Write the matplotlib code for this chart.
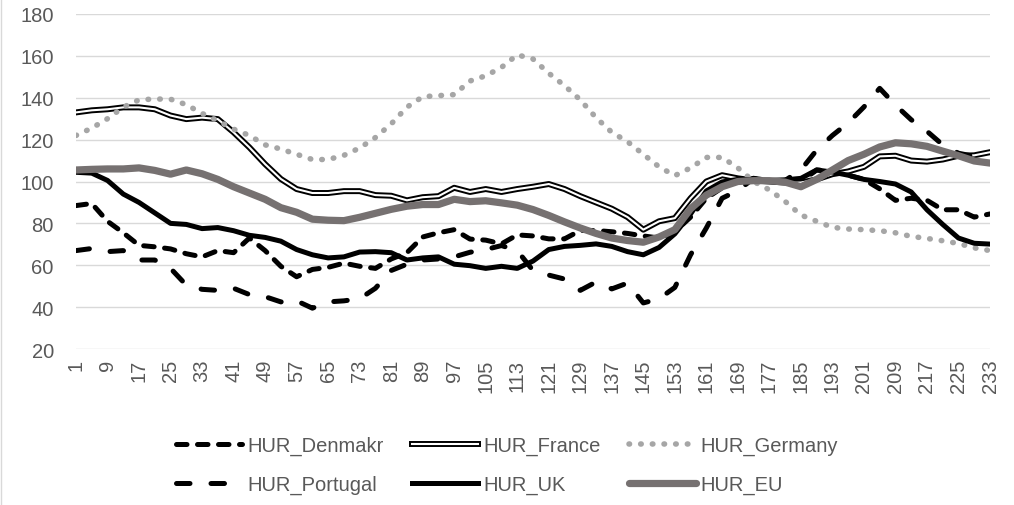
import numpy as np
import matplotlib.pyplot as plt
from matplotlib.legend_handler import HandlerTuple
from matplotlib.lines import Line2D

plt.rcParams['font.family'] = ['Liberation Sans', 'DejaVu Sans']

# index values read every 4th period (1, 5, 9, ..., 233)
periods = np.arange(1, 234, 4)

denmark = [88.5, 89.5, 81, 75.5, 69.5, 68.8, 67.8, 65.5, 64, 67,
           66, 73, 67, 59.5, 54.5, 58, 59, 61, 59.5, 58.5,
           63, 66, 73.5, 75.5, 77, 72.5, 72, 70.2, 74.5, 74,
           72.6, 72.6, 76.6, 76.6, 76, 75.2, 74, 73, 76, 83,
           92, 97, 100, 101.5, 100.5, 100.5, 100, 105.5, 105, 103,
           101, 96.5, 91, 92, 91, 86.5, 86.5, 83, 84.5]
france = [133, 134, 134.5, 135.4, 135.4, 134.5, 131.5, 129.8, 130.5, 129.8,
          123.5, 116.3, 108.3, 101.2, 96.4, 94.5, 94.5, 95.4, 95.4, 93.5,
          93.2, 91, 92.5, 93, 97, 95, 96.4, 95, 96.4, 97.5,
          98.8, 96.4, 93, 90, 87, 83, 77, 81, 82.5, 92,
          100, 103, 101.5, 100.5, 100, 99.5, 99.5, 101, 103.5, 104.8,
          107, 112, 112.3, 110, 109.5, 110.5, 112.3, 112.5, 114]
germany = [122, 125.5, 130, 135.5, 139, 139.4, 139.3, 136.7, 132.5, 129,
           125, 122, 117.5, 115.5, 113, 110.5, 110.5, 112.5, 116, 121,
           127.5, 135.5, 140.5, 141, 141.5, 148, 150.5, 154.5, 160.5, 158.5,
           151.7, 145.8, 139, 130.5, 123.5, 119, 113, 107, 102.8, 106.5,
           111.5, 111.5, 106.5, 100, 96, 90.5, 84, 81, 78.1, 77.3,
           77, 76.5, 75.5, 73.8, 72.8, 71.7, 70.4, 68.3, 67]
portugal = [67, 68, 66.5, 67, 62.5, 62.5, 58.5, 50.5, 48.5, 48,
            49, 46, 45, 42.5, 43, 39.5, 42.5, 43, 44, 49,
            57.5, 60.5, 62.5, 63, 64, 66.2, 67.5, 69.4, 67, 57.5,
            55.3, 53.4, 48, 52, 48.7, 51.5, 42, 44, 49.4, 65,
            77.8, 92, 95.7, 101.5, 99.5, 100.5, 105.5, 115, 122, 128,
            135.6, 144.5, 136.5, 129.5, 124, 117.5, 113.5, 112, 112]
uk = [104.4, 104, 100.5, 94, 90, 85, 80, 79.5, 77.5, 78,
      76.5, 74.3, 73.3, 71.5, 67.5, 65, 63.5, 64, 66.3, 66.5,
      66, 62.5, 63.5, 64, 60.5, 59.8, 58.5, 59.5, 58.5, 62,
      67.5, 69, 69.5, 70.2, 69, 66.5, 65, 68.5, 75, 84.5,
      95.5, 99.8, 101, 100.8, 100.5, 100.8, 101.5, 105.5, 104.5, 103,
      101, 100, 98.8, 95, 86.5, 79.5, 73, 70.5, 70.1]
eu = [105.5, 105.8, 106, 106, 106.5, 105.3, 103.5, 105.5, 103.7, 101,
      97.5, 94.5, 91.5, 87.5, 85.3, 82, 81.5, 81.3, 82.9, 84.8,
      86.7, 88.2, 89, 89, 91.5, 90.4, 90.8, 89.8, 88.7, 86.6,
      83.8, 80.7, 77.8, 75.2, 73, 71.8, 71, 73.5, 77, 87,
      93.5, 97.5, 100, 100.4, 100.4, 99.7, 97.5, 101, 105.5, 110,
      113, 116.5, 118.5, 118, 116.8, 114.5, 112.3, 109.8, 108.8]

xtick_labels = list(range(1, 234, 8))
text_grey = '#595959'

fig = plt.figure(figsize=(10.14, 5.06), dpi=100)
ax = fig.add_axes([76 / 1014, 1 - 350 / 506, 914 / 1014, 335 / 506])

dk, = ax.plot(periods, denmark, color='black', lw=3.6, ls=(0, (2.1, 2.1)),
              dash_capstyle='round', solid_joinstyle='round')
fr1, = ax.plot(periods, france, color='black', lw=4.3, solid_joinstyle='round')
fr2, = ax.plot(periods, france, color='white', lw=1.5, solid_joinstyle='round')
de, = ax.plot(periods, germany, color='#A6A6A6', lw=4.0, ls=(0, (0.1, 2.0)),
              dash_capstyle='round')
pt, = ax.plot(periods, portugal, color='black', lw=3.6, ls=(0, (2.7, 4.2)),
              dash_capstyle='round')
gb, = ax.plot(periods, uk, color='black', lw=3.6, solid_joinstyle='round')
eu_line, = ax.plot(periods, eu, color='#767171', lw=5.2, solid_joinstyle='round',
                   solid_capstyle='round')

ax.set_xlim(1, 233)
ax.set_ylim(20, 180)
ax.set_yticks(range(20, 181, 20))
ax.set_xticks(xtick_labels)
ax.set_xticklabels([str(v) for v in xtick_labels], rotation=90)
ax.tick_params(axis='y', length=0, pad=16, labelsize=14.5, labelcolor=text_grey)
ax.tick_params(axis='x', length=0, pad=7, labelsize=14.5, labelcolor=text_grey)
ax.yaxis.grid(True, color='#D9D9D9', lw=1.0)
ax.set_axisbelow(True)
for s in ax.spines.values():
    s.set_visible(False)

# legend, filled column by column so rows read like the original
handles = [dk, pt, (fr1, fr2), gb, de, eu_line]
labels = ['HUR_Denmakr', 'HUR_Portugal', 'HUR_France', 'HUR_UK',
          'HUR_Germany', 'HUR_EU']
leg = fig.legend(handles, labels, ncol=3, loc='center',
                 bbox_to_anchor=(0.5, 1 - 466 / 506), frameon=False,
                 fontsize=14.5, handlelength=3.3, handletextpad=0.25,
                 columnspacing=1.4, labelspacing=1.0,
                 handler_map={tuple: HandlerTuple(ndivide=1, pad=0)})
for t in leg.get_texts():
    t.set_color(text_grey)

fig.add_artist(Line2D([0.5 / 1014, 0.5 / 1014], [0, 1], transform=fig.transFigure,
                      color='#D9D9D9', lw=1))

fig.savefig('out.png', dpi=100)
